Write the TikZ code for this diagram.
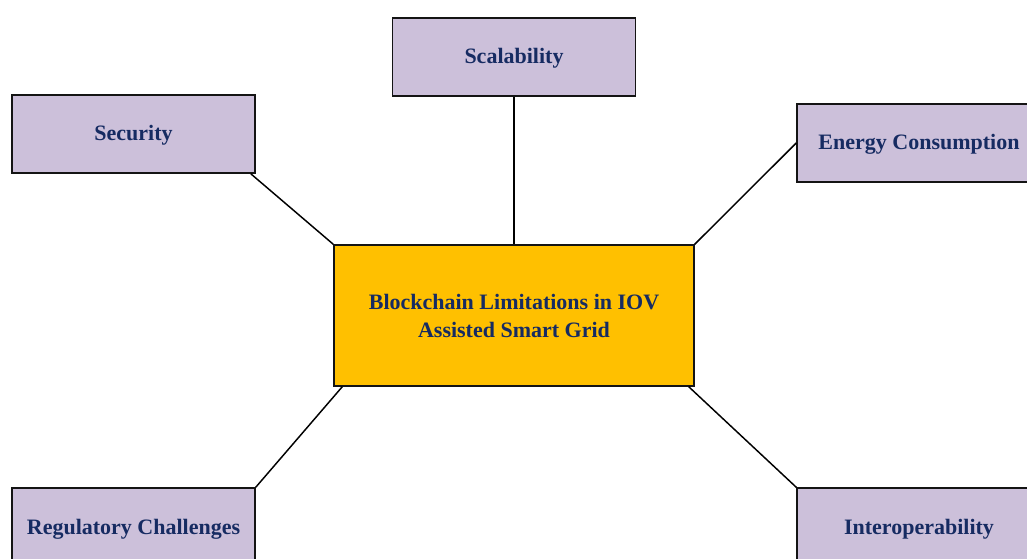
\documentclass[tikz,border=0pt]{standalone}
\usepackage{fontspec}
\setmainfont{Liberation Serif}
\definecolor{topicfill}{RGB}{204,192,218}
\definecolor{corefill}{RGB}{255,192,0}
\definecolor{labelink}{RGB}{22,43,98}
\definecolor{edgeline}{RGB}{20,20,20}
\begin{document}
\begin{tikzpicture}[x=0.75pt,y=-0.75pt,
  topic/.style={draw=edgeline,line width=1.1pt,fill=topicfill,minimum width=182.25pt,minimum height=58.5pt,inner sep=0pt,text height=10.5pt,text depth=0pt,font=\bfseries\fontsize{16.5}{21}\selectfont,text=labelink},
  core/.style={draw=edgeline,line width=1.1pt,fill=corefill,minimum width=270pt,minimum height=105.75pt,inner sep=0pt,align=center,font=\bfseries\fontsize{16.5}{21}\selectfont,text=labelink},
  link/.style={draw=black,line width=1.1pt}]
\useasboundingbox (0,0) rectangle (1027,559);
\clip (0,0) rectangle (1027,559);
% central topic
\node[core] (hub) at (514,315.5) {Blockchain Limitations in IOV\\Assisted Smart Grid};
% surrounding limitations
\node[topic] (scal) at (514,57) {Scalability};
\node[topic] (sec) at (133.5,134) {Security};
\node[topic,minimum width=183pt] (energy) at (919,143) {Energy Consumption};
\node[topic] (reg) at (133.5,527) {Regulatory Challenges};
\node[topic,minimum width=183pt] (inter) at (919,527) {Interoperability};
% connectors
\draw[link] ([xshift=-3.75pt]sec.south east) -- (hub.north west);
\draw[link] (scal.south) -- (hub.north);
\draw[link] (energy.west) -- (hub.north east);
\draw[link] (reg.north east) -- ([xshift=6.75pt]hub.south west);
\draw[link] (inter.north west) -- ([xshift=-4.5pt]hub.south east);
\end{tikzpicture}
\end{document}
